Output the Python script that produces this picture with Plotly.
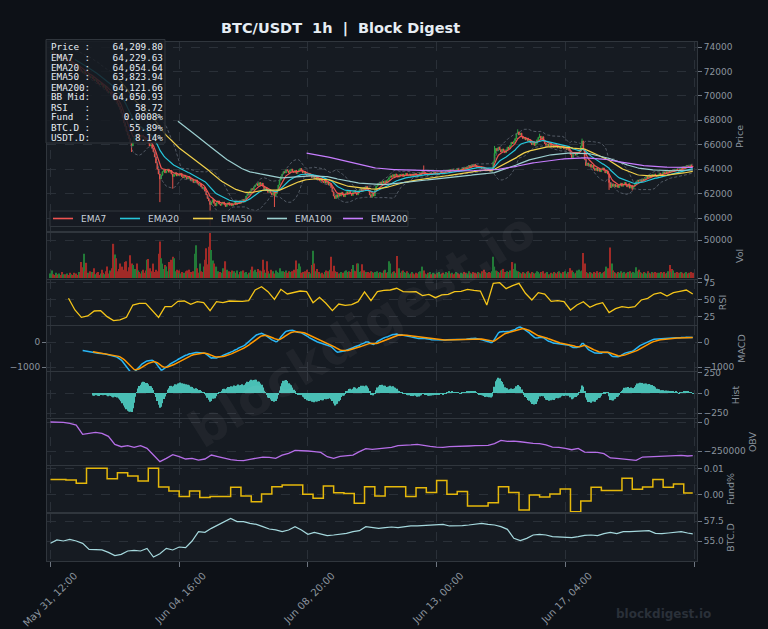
import numpy as np
import pandas as pd
import plotly.graph_objects as go
from plotly.subplots import make_subplots

# ---------------- data ----------------
first_open = 73500
closes = [
    73550, 73620, 73480, 73390, 73450, 73300, 73210, 73280, 73150, 73020, 73100, 72960, 72880, 72930, 72800, 72690, 72750, 72600, 72480, 72550,
    72400, 72280, 72350, 72150, 72020, 71900, 71980, 71820, 71700, 71760, 71600, 71480, 71550, 71380, 71250, 71320, 71150, 71000, 70920, 71050,
    70880, 70700, 70760, 70550, 70400, 70250, 70320, 70100, 69900, 69750, 69820, 69600, 69400, 69150, 68900, 68600, 68200, 67800, 67500, 67100,
    66800, 66500, 66200, 65900, 66300, 66600, 66850, 66700, 66900, 66750, 66600, 66800, 66650, 66500, 66300, 66400, 66150, 65900, 66000, 65700,
    65400, 65000, 64500, 64000, 63600, 63200, 63500, 63800, 63950, 63700, 63850, 64000, 63750, 63900, 63600, 63400, 63550, 63700, 63450, 63600,
    63500, 63650, 63400, 63300, 63500, 63350, 63200, 63400, 63250, 63050, 63150, 62900, 62950, 63100, 62850, 62700, 62800, 62550, 62400, 62500,
    62200, 61900, 61600, 61400, 61100, 61300, 61500, 61200, 61000, 61250, 61400, 61150, 61050, 61200, 61300, 61100, 60950, 61150, 61250, 61050,
    61200, 61000, 61150, 61300, 61100, 61250, 61400, 61200, 61350, 61500, 61300, 61550, 61800, 62000, 61900, 62200, 62400, 62300, 62550, 62700,
    62800, 62650, 62900, 62750, 62850, 62600, 62400, 62500, 62250, 62100, 62300, 62050, 61900, 62100, 61800, 62000, 62300, 62700, 63100, 63400,
    63600, 63800, 63700, 63950, 63850, 63700, 63900, 64000, 63800, 63750, 63900, 63650, 63800, 63950, 64050, 63900, 63700, 63800, 63600, 63500,
    63650, 63450, 63550, 63300, 63400, 63200, 63350, 63150, 63250, 63050, 63200, 63000, 62900, 63100, 62850, 62950, 62700, 62800, 62500, 62150,
    61800, 61600, 61900, 61700, 62000, 61800, 62100, 61900, 61750, 62000, 62150, 61950, 62200, 62000, 61850, 62100, 62250, 62050, 61900, 62150,
    62300, 62450, 62200, 62500, 62350, 62600, 62400, 62200, 61900, 61700, 62000, 61800, 62300, 62600, 62800, 62700, 62950, 62800, 63000, 62850,
    63050, 62900, 63150, 63300, 63450, 63350, 63550, 63400, 63600, 63500, 63350, 63550, 63450, 63600, 63400, 63550, 63650, 63450, 63500, 63600,
    63450, 63600, 63500, 63650, 63550, 63400, 63550, 63700, 63600, 63900, 63750, 63550, 63650, 63500, 63600, 63700, 63550, 63650, 63750, 63600,
    63700, 63550, 63650, 63800, 63700, 63600, 63750, 63850, 63900, 63800, 63950, 63850, 64000, 63900, 63800, 63950, 64050, 63900, 63850, 64000,
    64100, 63950, 64150, 64050, 64200, 64300, 64150, 64350, 64250, 64400, 64300, 64150, 64250, 64100, 64200, 64050, 64150, 64000, 63900, 64050,
    63950, 63850, 63800, 64000, 64600, 65300, 65700, 65500, 65800, 65600, 65400, 65650, 65500, 65350, 65600, 65800, 65700, 65950, 66200, 66100,
    66300, 66500, 66900, 67050, 66800, 66950, 66700, 66500, 66600, 66400, 66550, 66300, 66400, 66150, 66000, 66200, 65950, 66100, 66400, 66600,
    66700, 66500, 66650, 66300, 66100, 65950, 66050, 65900, 66100, 65850, 65950, 65800, 66000, 65900, 65750, 65850, 65700, 65900, 65800, 65650,
    65750, 65600, 65700, 65500, 65200, 64950, 65250, 65350, 65150, 65300, 65400, 65450, 65900, 66300, 65600, 64800, 64300, 64500, 64250, 64400,
    64150, 64300, 64050, 63900, 64100, 63850, 64000, 63800, 63950, 64100, 63900, 63700, 63850, 63600, 62900, 62500, 62800, 62600, 62750, 62550,
    62700, 62500, 62650, 62850, 62600, 62750, 62900, 62700, 62550, 62800, 62450, 62650, 62400, 62600, 62750, 62950, 63100, 63000, 63150, 63050,
    63200, 63100, 63250, 63400, 63300, 63500, 63400, 63550, 63450, 63600, 63500, 63400, 63550, 63650, 63500, 63600, 63750, 63650, 63800, 63700,
    63850, 63750, 63900, 63800, 63950, 63850, 64000, 63900, 63850, 64050, 64150, 64000, 64200, 64100, 64300, 64250, 64150, 64350, 64250, 64209.8,
]
wick_high = {290: 64300, 345: 65900, 363: 67260, 380: 66900, 413: 66500}
wick_low = {63: 65400, 85: 61300, 95: 62400, 124: 59300, 174: 60900, 434: 62300, 452: 62250}

volume_k = [
    6, 10, 5, 4, 7, 3, 5, 6, 4, 8, 5, 5, 3, 6, 4, 7, 5, 4, 7, 5,
    6, 4, 8, 6, 21, 14, 32, 9, 20, 7, 5, 9, 8, 6, 13, 5, 7, 8, 4, 6,
    11, 7, 5, 9, 15, 6, 10, 8, 13, 45, 31, 26, 9, 12, 19, 8, 15, 11, 21, 22,
    9, 14, 30, 19, 17, 8, 12, 19, 10, 8, 6, 9, 11, 7, 10, 24, 25, 13, 7, 9,
    19, 8, 11, 9, 32, 48, 26, 19, 12, 17, 15, 9, 21, 12, 24, 28, 26, 9, 11, 7,
    10, 6, 8, 5, 7, 9, 10, 6, 11, 8, 5, 9, 32, 43, 13, 7, 19, 9, 8, 15,
    24, 39, 18, 41, 60, 37, 23, 19, 12, 15, 9, 6, 8, 7, 13, 9, 22, 11, 7, 9,
    8, 10, 6, 9, 7, 10, 5, 8, 9, 6, 10, 7, 8, 5, 7, 7, 11, 15, 9, 11,
    8, 12, 7, 10, 9, 24, 11, 7, 22, 9, 6, 11, 8, 9, 6, 10, 8, 7, 13, 9,
    6, 9, 8, 10, 7, 9, 8, 6, 9, 11, 7, 23, 12, 19, 15, 7, 8, 6, 9, 11,
    7, 8, 6, 17, 36, 19, 9, 12, 7, 8, 6, 7, 5, 8, 10, 7, 9, 11, 28, 9,
    16, 9, 7, 8, 6, 6, 8, 7, 7, 9, 10, 8, 9, 8, 12, 17, 10, 9, 19, 19,
    8, 9, 18, 7, 10, 8, 6, 8, 7, 9, 8, 7, 8, 6, 9, 7, 8, 6, 7, 10,
    11, 7, 8, 22, 19, 6, 8, 9, 7, 29, 10, 13, 7, 9, 10, 8, 7, 9, 7, 5,
    6, 8, 6, 5, 7, 6, 8, 9, 7, 15, 10, 6, 5, 7, 6, 8, 5, 7, 6, 5,
    7, 6, 8, 5, 6, 7, 5, 8, 6, 7, 9, 6, 7, 5, 6, 8, 7, 6, 5, 7,
    6, 8, 5, 7, 6, 9, 7, 6, 8, 5, 7, 6, 8, 7, 6, 9, 7, 11, 8, 7,
    6, 8, 7, 9, 28, 15, 10, 9, 8, 7, 10, 11, 12, 8, 6, 9, 8, 10, 7, 21,
    12, 19, 10, 9, 8, 7, 6, 8, 7, 6, 8, 9, 7, 6, 8, 7, 6, 7, 9, 8,
    6, 8, 7, 9, 6, 7, 8, 5, 4, 7, 6, 8, 7, 6, 8, 9, 7, 6, 8, 7,
    9, 6, 8, 7, 13, 10, 8, 6, 7, 10, 8, 11, 9, 10, 33, 19, 8, 7, 6, 8,
    7, 6, 8, 7, 6, 9, 7, 8, 6, 7, 8, 9, 15, 13, 10, 40, 19, 10, 8, 7,
    6, 8, 7, 9, 7, 6, 8, 6, 7, 8, 9, 7, 6, 8, 7, 14, 9, 11, 8, 7,
    6, 8, 7, 6, 9, 7, 6, 8, 7, 6, 8, 7, 6, 7, 8, 6, 7, 8, 6, 7,
    9, 17, 8, 12, 10, 7, 6, 8, 7, 6, 8, 7, 6, 7, 8, 6, 7, 6, 8, 7,
]

# RSI read every 5 bars starting at bar 14
rsi_start, rsi_step = 14, 5
rsi_vals = [
    52.5, 35.3, 24.5, 26.5, 33.8, 34.3, 25.5, 19.6, 20.6, 24.5, 42.6, 45.1, 45.1, 35.3, 24.5, 40.2, 40.2, 48.0,
    48.5, 43.6, 47.5, 46.1, 34.3, 47.5, 46.1, 48.5, 48.0, 48.0, 49.0, 64.7, 69.6, 62.3, 51.0, 65.7, 58.8, 61.3, 63.2, 62.3,
    46.1, 53.9, 45.1, 34.3, 44.1, 42.2, 43.1, 47.5, 61.8, 49.0, 62.3, 64.2, 64.7, 67.2, 62.3, 61.8, 62.3, 56.4, 58.3, 53.4,
    57.4, 58.3, 62.3, 62.7, 65.7, 64.2, 63.2, 42.6, 74.5, 75.5, 66.7, 71.1, 74.5, 59.8, 50.0, 60.8, 58.8, 48.0, 49.0, 47.5,
    35.3, 42.6, 47.5, 39.2, 43.6, 46.1, 31.4, 37.3, 40.2, 38.7, 40.2, 50.0, 52.5, 58.8, 60.8, 55.9, 60.8, 62.7, 64.7, 58.72,
]

# OBV (thousands) read every 5 bars from bar 0, plus the last bar
obv_k = [
    0, 0, -3, -11, -26, -106, -95, -89, -98, -124, -193, -213, -204, -218, -204, -227, -285, -342, -313, -282,
    -299, -319, -313, -328, -319, -285, -299, -313, -325, -331, -333, -322, -313, -302, -305, -313, -285, -270, -244, -244,
    -250, -256, -262, -299, -313, -296, -290, -285, -256, -230, -236, -230, -224, -218, -204, -198, -198, -193, -204, -210,
    -216, -218, -213, -213, -210, -207, -204, -204, -201, -187, -158, -167, -164, -170, -178, -184, -187, -198, -216, -218,
    -227, -239, -227, -259, -262, -262, -273, -310, -313, -319, -328, -331, -302, -299, -296, -296, -290, -287, -287, -293,
    -290,
]

# BTC dominance (%) read every 5 bars from bar 0, plus the last bar
btcd_vals = [
    54.71, 55.13, 55.0, 55.21, 55.0, 54.71, 53.96, 53.92, 53.88, 53.58, 53.17, 53.33, 53.75, 53.83, 53.75, 54.08, 53.0, 53.4, 54.08, 53.88,
    54.25, 54.17, 55.0, 56.17, 56.08, 56.58, 57.0, 57.5, 57.83, 57.42, 57.42, 57.21, 57.08, 56.79, 56.5, 56.38, 56.17, 56.38, 56.79, 56.38,
    55.83, 56.08, 55.92, 55.67, 55.75, 55.83, 55.96, 56.17, 56.29, 56.79, 56.67, 56.58, 56.67, 56.75, 56.67, 56.79, 56.88, 56.88, 56.92, 56.92,
    57.0, 57.08, 56.88, 56.88, 56.92, 57.0, 57.08, 57.21, 57.08, 57.0, 56.79, 56.46, 55.33, 55.04, 55.33, 55.75, 55.83, 55.75, 55.54, 55.5,
    55.5, 55.42, 55.54, 55.71, 55.75, 55.67, 55.92, 56.08, 55.92, 56.17, 56.17, 56.21, 56.29, 56.29, 55.96, 55.92, 56.0, 56.08, 56.17, 56.0,
    55.89,
]

# funding rate (%) per 8h period (first period starts at bar 0, the rest every 8 bars from bar 4)
fund_vals = [
    0.0060, 0.0060, 0.0058, 0.0045, 0.0103, 0.0103, 0.0062, 0.0086, 0.0073, 0.0054, 0.0103, 0.0031, 0.0015, -0.0006, 0.0015, -0.0010,
    -0.0006, -0.0006, 0.0030, -0.0004, -0.0026, 0.0004, 0.0032, 0.0038, 0.0038, 0.0003, -0.0013, 0.0035, 0.0009, 0.0006, -0.0032, 0.0032,
    -0.0004, 0.0032, 0.0032, -0.0006, 0.0028, 0.0010, 0.0056, 0.0003, 0.0013, -0.0042, -0.0042, -0.0030, 0.0032, 0.0010, -0.0058, 0.0000,
    -0.0008, 0.0004, 0.0023, -0.0064, -0.0023, 0.0030, 0.0017, 0.0017, 0.0064, 0.0022, 0.0031, 0.0060, 0.0030, 0.0042, 0.0008,
]

x_tick_labels = ["May 31, 12:00", "Jun 04, 16:00", "Jun 08, 20:00", "Jun 13, 00:00", "Jun 17, 04:00", ""]
x_tick_step = 100

info_labels = ["Price", "EMA7", "EMA20", "EMA50", "EMA200", "BB Mid", "RSI", "Fund", "BTC.D", "USDT.D"]
info_values = ["64,209.80", "64,229.63", "64,054.64", "63,823.94", "64,121.66", "64,050.93", "58.72", "0.0008%", "55.89%", "8.14%"]

ema_periods = [7, 20, 50, 100, 200]
ema_names = ["EMA7", "EMA20", "EMA50", "EMA100", "EMA200"]
ema_colors = ["#ef5350", "#26c6da", "#f2d14b", "#9ccfd0", "#c77dff"]

# ---------------- derived series ----------------
n = len(closes)
idx = np.arange(n)
close = pd.Series(closes, dtype=float)
opens = [first_open] + closes[:-1]
highs = [max(o, c) for o, c in zip(opens, closes)]
lows = [min(o, c) for o, c in zip(opens, closes)]
for k, v in wick_high.items():
    highs[k] = max(highs[k], v)
for k, v in wick_low.items():
    lows[k] = min(lows[k], v)

emas = {}
for p in ema_periods:
    e = close.ewm(span=p, adjust=False).mean()
    e.iloc[: p - 1] = np.nan
    emas[p] = e

bb_mid = close.rolling(20).mean()
bb_sd = close.rolling(20).std(ddof=0)
bb_up = bb_mid + 2 * bb_sd
bb_lo = bb_mid - 2 * bb_sd

ema12 = close.ewm(span=12, adjust=False).mean()
ema26 = close.ewm(span=26, adjust=False).mean()
macd = ema12 - ema26
macd.iloc[:25] = np.nan
signal = macd.ewm(span=9, adjust=False).mean()
signal.iloc[:33] = np.nan
hist = macd - signal

vol = [v * 1000 for v in volume_k]
vol_colors = ["#227a38" if c >= o else "#a12a27" for o, c in zip(opens, closes)]

rsi_x = list(range(rsi_start, rsi_start + rsi_step * len(rsi_vals), rsi_step))
obv_x = list(range(0, 5 * (len(obv_k) - 1), 5)) + [n - 1]
obv = [v * 1000 for v in obv_k]
btcd_x = list(range(0, 5 * (len(btcd_vals) - 1), 5)) + [n - 1]
fund_x = [0] + list(range(4, 4 + 8 * (len(fund_vals) - 1), 8)) + [n - 1]
fund_y = fund_vals + [fund_vals[-1]]

# ---------------- figure ----------------
W, H = 768, 629
ML, MR, MT, MB = 47, 71, 42, 68
PW, PH = W - ML - MR, H - MT - MB

def py(ypix):
    return (H - MB - ypix) / PH

def px(xpix):
    return (xpix - ML) / PW

FONT = "DejaVu Sans"
GRAY = "#8b949e"
GRID = "#2a3038"
BORDER = "#30363d"

fig = make_subplots(rows=8, cols=1, shared_xaxes=True, vertical_spacing=0.002)

fig.add_trace(go.Candlestick(
    x=idx, open=opens, high=highs, low=lows, close=closes,
    increasing=dict(line=dict(color="#2ea043", width=1), fillcolor="#2ea043"),
    decreasing=dict(line=dict(color="#e5534b", width=1), fillcolor="#e5534b"),
    showlegend=False, hoverinfo="skip"), row=1, col=1)
for band in (bb_up, bb_lo):
    fig.add_trace(go.Scatter(x=idx, y=band, mode="lines",
                             line=dict(color="#59616c", width=0.9, dash="3px,2px"),
                             showlegend=False, hoverinfo="skip"), row=1, col=1)
for p, nm, col in zip(ema_periods, ema_names, ema_colors):
    fig.add_trace(go.Scatter(x=idx, y=emas[p], mode="lines", name=nm,
                             line=dict(color=col, width=1.2), showlegend=False), row=1, col=1)

fig.add_trace(go.Bar(x=idx, y=vol, marker=dict(color=vol_colors, line=dict(width=0)),
                     showlegend=False, hoverinfo="skip"), row=2, col=1)

fig.add_trace(go.Scatter(x=rsi_x, y=rsi_vals, mode="lines", line=dict(color="#f5c518", width=1.3),
                         showlegend=False), row=3, col=1)

fig.add_trace(go.Scatter(x=idx, y=macd, mode="lines", line=dict(color="#29b6f6", width=1.5),
                         showlegend=False), row=4, col=1)
fig.add_trace(go.Scatter(x=idx, y=signal, mode="lines", line=dict(color="#ff9800", width=1.5),
                         showlegend=False), row=4, col=1)

fig.add_trace(go.Bar(x=idx, y=hist, marker=dict(color="#4fd1c5", line=dict(width=0)), opacity=0.9,
                     showlegend=False, hoverinfo="skip"), row=5, col=1)

fig.add_trace(go.Scatter(x=obv_x, y=obv, mode="lines", line=dict(color="#b66ee8", width=1.3),
                         showlegend=False), row=6, col=1)

fig.add_trace(go.Scatter(x=fund_x, y=fund_y, mode="lines", line=dict(color="#e5b80b", width=1.5, shape="hv"),
                         showlegend=False), row=7, col=1)

fig.add_trace(go.Scatter(x=btcd_x, y=btcd_vals, mode="lines", line=dict(color="#a5d8dd", width=1.2),
                         showlegend=False), row=8, col=1)

# invisible copy of MACD on a left-side axis (left tick labels)
fig.add_trace(go.Scatter(x=idx, y=macd, mode="lines", line=dict(width=0), opacity=0,
                         xaxis="x4", yaxis="y9", showlegend=False, hoverinfo="skip"))

domains = [
    (py(231), py(42)), (py(279), py(233)), (py(325), py(280)), (py(371), py(326)),
    (py(418), py(372)), (py(465), py(419)), (py(512), py(466)), (0.0, py(514)),
]
ranges = [
    [58936, 74409], [-1300, 59200], [13.2, 79.4], [-1160, 640],
    [-312, 262], [-370700, 26000], [-0.00654, 0.01115], [52.5, 58.375],
]
tickvals = [
    list(range(60000, 74001, 2000)), [0, 50000], [25, 50, 75], [-1000, 0],
    [-250, 0, 250], [-250000, 0], [0.0, 0.01], [55.0, 57.5],
]
tickfmt = ["d", "d", "d", "d", "d", "d", ".2f", ".1f"]
titles = ["Price", "Vol", "RSI", "MACD", "Hist", "OBV", "Fund%", "BTC.D"]

xr = [-2.7, 502.3]
xt = list(range(0, x_tick_step * len(x_tick_labels), x_tick_step))
for i in range(8):
    sfx = "" if i == 0 else str(i + 1)
    fig.layout["yaxis" + sfx].update(
        domain=list(domains[i]), range=ranges[i], side="right", tickvals=tickvals[i],
        tickformat=tickfmt[i], ticks="outside", ticklen=4, tickcolor="#6e7681",
        tickfont=dict(family=FONT, size=9, color=GRAY), automargin=False,
        showgrid=True, gridcolor=GRID, griddash="dash", gridwidth=1, zeroline=False,
        showline=True, mirror=True, linecolor=BORDER, linewidth=1,
        title=dict(text=titles[i], font=dict(family=FONT, size=9.5, color=GRAY), standoff=4),
        fixedrange=True)
    fig.layout["xaxis" + sfx].update(
        range=xr, tickvals=xt, showgrid=True, gridcolor=GRID, griddash="dash", gridwidth=1,
        zeroline=False, showline=True, mirror=True, linecolor=BORDER, linewidth=1,
        showticklabels=False, ticks="", automargin=False)

fig.layout.xaxis.rangeslider.visible = False
fig.layout.xaxis8.update(
    showticklabels=True, ticktext=x_tick_labels, ticks="outside", ticklen=5, tickcolor="#6e7681",
    tickangle=-45, tickfont=dict(family=FONT, size=10, color=GRAY),
    ticklabelshift=24, ticklabelstandoff=-1)

fig.update_layout(
    yaxis9=dict(overlaying="y4", anchor="x4", side="left", range=ranges[3], tickvals=[-1000, 0],
                tickformat="d", ticks="outside", ticklen=4, tickcolor="#6e7681", automargin=False,
                tickfont=dict(family=FONT, size=9, color=GRAY), showgrid=False, zeroline=False,
                showline=False, fixedrange=True),
)

# info box
fig.add_shape(type="rect", xref="paper", yref="paper", x0=px(46), x1=px(165), y0=py(143), y1=py(39.5),
              fillcolor="rgba(22,27,34,0.85)", line=dict(color=BORDER, width=1), layer="above")
for k, (lab, val) in enumerate(zip(info_labels, info_values)):
    line = f"{lab:<6}:{val:>13}".replace(" ", "\u00a0")
    fig.add_annotation(xref="paper", yref="paper", x=px(49), y=py(47 + 10 * k), xanchor="left",
                       yanchor="middle", text=line, showarrow=False,
                       font=dict(family="DejaVu Sans Mono", size=9.3, color="#e6edf3"))

# legend (drawn as a framed key under the price panel)
leg_x = [53, 120, 193, 267, 343]
leg_y = 218.5
fig.add_shape(type="rect", xref="paper", yref="paper", x0=px(50), x1=px(408), y0=py(226.5), y1=py(211),
              fillcolor="rgba(22,27,34,0.9)", line=dict(color=BORDER, width=1), layer="above")
for lx, nm, col in zip(leg_x, ema_names, ema_colors):
    fig.add_shape(type="line", xref="paper", yref="paper", x0=px(lx), x1=px(lx + 20), y0=py(leg_y), y1=py(leg_y),
                  line=dict(color=col, width=1.6), layer="above")
    fig.add_annotation(xref="paper", yref="paper", x=px(lx + 26), y=py(leg_y), xanchor="left", yanchor="middle",
                       text=nm, showarrow=False, font=dict(family=FONT, size=9, color="#c9d1d9"))

# title
fig.add_annotation(xref="paper", yref="paper", x=px(340), y=py(29), xanchor="center", yanchor="middle",
                   text="BTC/USDT\u00a0\u00a01h\u00a0\u00a0|\u00a0\u00a0Block Digest", showarrow=False,
                   font=dict(family=FONT, size=14.5, color="#e6edf3", weight="bold"))

# watermarks
fig.add_annotation(xref="paper", yref="paper", x=px(362), y=py(330), xanchor="center", yanchor="middle",
                   text="blockdigest.io", showarrow=False, textangle=-32,
                   font=dict(family=FONT, size=50, color="rgba(255,255,255,0.045)", weight="bold"))
fig.add_annotation(xref="paper", yref="paper", x=px(663), y=py(614), xanchor="center", yanchor="middle",
                   text="blockdigest.io", showarrow=False,
                   font=dict(family=FONT, size=12, color="#2a3039", weight="bold"))

fig.update_layout(
    width=W, height=H, margin=dict(l=ML, r=MR, t=MT, b=MB, autoexpand=False),
    paper_bgcolor="#0d1117", plot_bgcolor="#161b22",
    font=dict(family=FONT, size=9, color=GRAY),
    bargap=0.12, hovermode=False, showlegend=False,
)

fig.write_html("out.html")
